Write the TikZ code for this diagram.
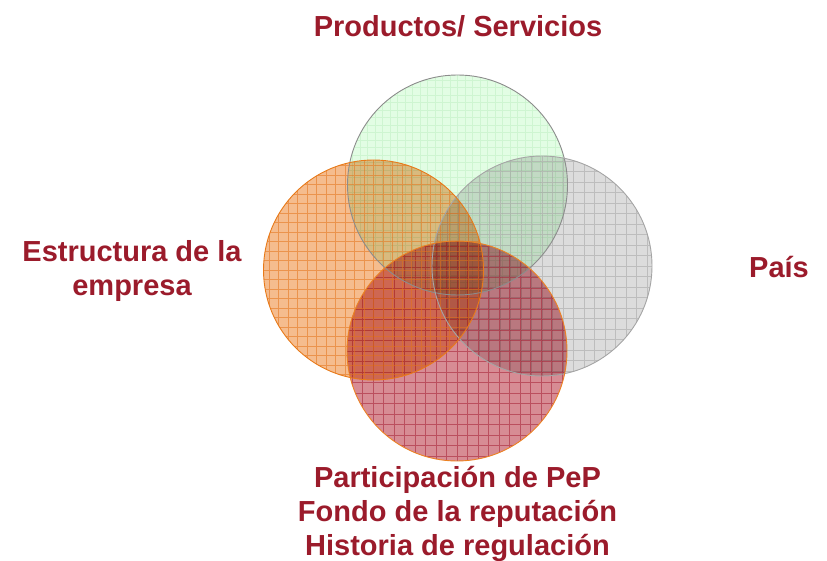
\documentclass[tikz,border=0pt]{standalone}
\usepackage{fontspec}
\setmainfont{Liberation Sans}
\definecolor{txtred}{RGB}{155,27,43}
\definecolor{fgreen}{RGB}{226,253,228}
\definecolor{lgreen}{RGB}{190,240,195}
\definecolor{bgreen}{RGB}{140,140,140}
\definecolor{fgray}{RGB}{220,220,220}
\definecolor{lgray}{RGB}{165,165,165}
\definecolor{bgray}{RGB}{165,165,165}
\definecolor{forange}{RGB}{245,188,142}
\definecolor{lorange}{RGB}{228,115,25}
\definecolor{borange}{RGB}{232,122,25}
\definecolor{fred}{RGB}{215,140,148}
\definecolor{lred}{RGB}{165,30,50}
\definecolor{bred}{RGB}{236,130,35}
\begin{document}
\begin{tikzpicture}[x=1pt,y=1pt,
  venn/.style n args={2}{circle, minimum size=220pt, inner sep=0pt, fill=#1,
    path picture={\draw[blend mode=normal, draw opacity=0.55, #2, line width=0.5pt]
      (path picture bounding box.south west) grid (path picture bounding box.north east);}},
  rim/.style={line width=0.9pt, draw=#1},
  lbl/.style={font=\fontsize{29}{34}\selectfont\bfseries, text=txtred, align=center, inner sep=0pt}]
\useasboundingbox (0,0) rectangle (827,-561);
\begin{scope}[blend mode=multiply]
  \node[venn={fgreen}{lgreen, step=7.5pt}] (prod) at (457.5,-185) {};
  \node[venn={fgray}{lgray, step=10.5pt}] (pais) at (542,-266) {};
  \node[venn={fred}{lred, step=10.5pt}] (part) at (457,-351) {};
  \node[venn={forange}{lorange, step=9.5pt}] (estr) at (373.5,-270) {};
\end{scope}
\draw[rim=bgreen] (prod) circle[radius=110pt];
\draw[rim=bgray] (pais) circle[radius=110pt];
\draw[rim=bred] (part) circle[radius=110pt];
\draw[rim=borange] (estr) circle[radius=110pt];
\node[lbl, anchor=base] (tprod) at (458,-37) {Productos/ Servicios};
\node[lbl, anchor=base] (testr) at (132,-296) {Estructura de la\\empresa};
\node[lbl, anchor=base] (tpais) at (779,-278) {País};
\node[lbl, anchor=base] (tpart) at (457.5,-555) {Participación de PeP\\Fondo de la reputación\\Historia de regulación};
\end{tikzpicture}
\end{document}
